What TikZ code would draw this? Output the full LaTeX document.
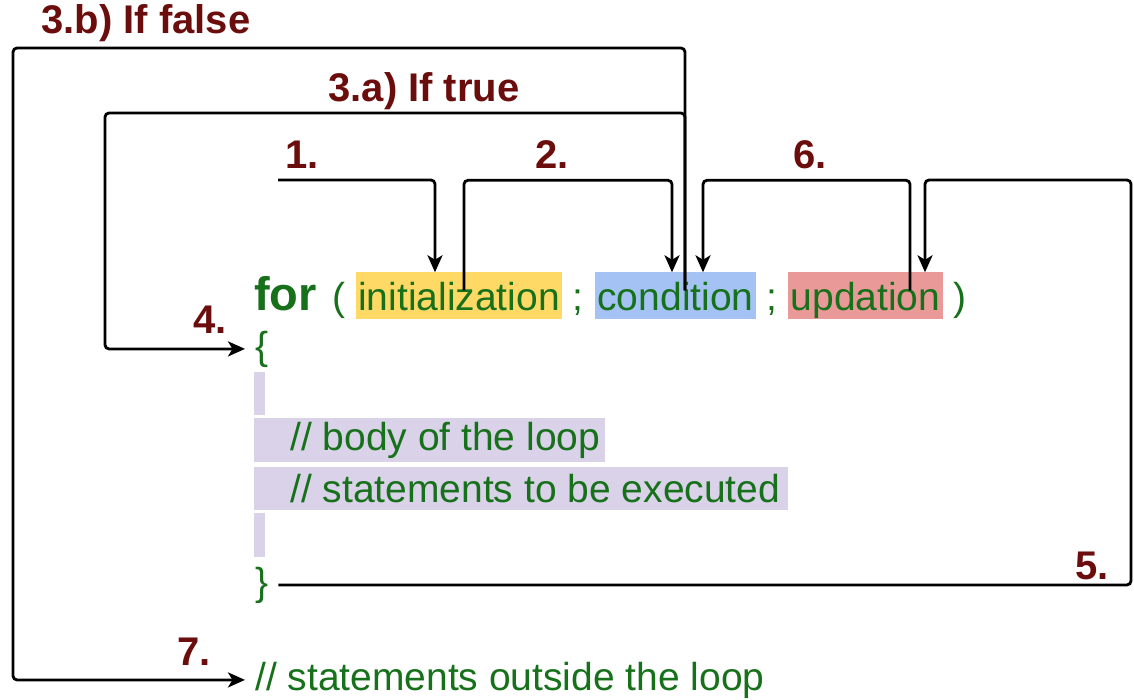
\documentclass[tikz,border=0pt]{standalone}
\usepackage{fontspec}
\setmainfont{Liberation Sans}
\usetikzlibrary{arrows.meta}

\definecolor{codegreen}{HTML}{17701A}
\definecolor{stepred}{HTML}{6B0D0D}
\definecolor{inityellow}{HTML}{FFD966}
\definecolor{condblue}{HTML}{A4C2F4}
\definecolor{updpink}{HTML}{EA9999}
\definecolor{bodylilac}{HTML}{D9D2E9}

\tikzset{
	codetext/.style={font=\fontsize{39}{47}\selectfont, text=codegreen, inner sep=0pt},
	wordbox/.style={codetext, fill=#1, text height=34pt, text depth=5pt,
		inner xsep=2.5pt, inner ysep=3.5pt},
	bodyline/.style={codetext, fill=bodylilac, anchor=north west},
	steplabel/.style={font=\bfseries\fontsize{40}{48}\selectfont, text=stepred, inner sep=0pt},
	flowarrow/.style={line width=2.8pt, rounded corners=4pt,
		-{Stealth[length=17pt, width=15pt, inset=4.5pt]}},
}

\begin{document}
\begin{tikzpicture}[x=1pt, y=-1pt]

	\useasboundingbox (0,0) rectangle (1134,700);

	% the loop header
	\node[codetext, font=\bfseries\fontsize{47}{56}\selectfont, anchor=base west] (for) at (254,310) {for};
	\node[codetext, anchor=base] (lpar) at (339,310) {(};
	\node[wordbox=inityellow, anchor=base] (init) at (459,310) {initialization};
	\node[codetext, anchor=base] (semi1) at (578,310) {;};
	\node[wordbox=condblue, anchor=base] (cond) at (675.5,310) {condition};
	\node[codetext, anchor=base] (semi2) at (772,310) {;};
	\node[wordbox=updpink, anchor=base] (upd) at (865.5,310) {updation};
	\node[codetext, anchor=base] (rpar) at (960,310) {)};

	% the body
	\node[codetext, anchor=base west, inner xsep=10pt] (lbrace) at (245,359) {\{};
	\node[fill=bodylilac, anchor=north west, inner sep=0pt,
		minimum width=11pt, minimum height=43pt] (gap1) at (254,372) {};
	\node[bodyline, minimum height=44pt] (body1) at (254,418)
		{\makebox[351pt][l]{\hspace*{36pt}// body of the loop}};
	\node[bodyline, minimum height=43pt] (body2) at (254,467)
		{\makebox[534pt][l]{\hspace*{36pt}// statements to be executed}};
	\node[fill=bodylilac, anchor=north west, inner sep=0pt,
		minimum width=11pt, minimum height=44pt] (gap2) at (254,513) {};
	\node[codetext, anchor=base west, inner xsep=10pt] (rbrace) at (245,595) {\}};

	\node[codetext, anchor=base west, inner xsep=10pt] (outside) at (245,690)
		{// statements outside the loop};

	% step numbers
	\node[steplabel] (lbl1) at (302,155) {1.};
	\node[steplabel] (lbl2) at (552,155) {2.};
	\node[steplabel] (lbl6) at (810,155) {6.};
	\node[steplabel] (lbl3a) at (424,91) {3.a) If true};
	\node[steplabel] (lbl3b) at (146,23) {3.b) If false};
	\node[steplabel] (lbl4) at (210,320) {4.};
	\node[steplabel] (lbl5) at (1092,566) {5.};
	\node[steplabel] (lbl7) at (194,652) {7.};

	% the flow
	\coordinate (start1) at (278,180);
	\draw[flowarrow] (start1) -| ([xshift=-24pt]init.north);
	\draw[flowarrow] ([xshift=5pt,yshift=-18pt]init.north) -- ++(0,-110)
		-| ([xshift=-3.5pt]cond.north);
	\draw[flowarrow] ([xshift=9.5pt,yshift=-18pt]cond.north) |- (105,113)
		|- (lbrace.west);
	\draw[flowarrow] ([xshift=9.5pt,yshift=-18pt]cond.north) |- (13,48)
		|- (outside.west);
	\draw[flowarrow] (rbrace.east) -| (1131,180) -| ([xshift=59.5pt]upd.north);
	\draw[flowarrow] ([xshift=44.5pt,yshift=-18pt]upd.north) -- ++(0,-110)
		-| ([xshift=27.5pt]cond.north);

\end{tikzpicture}
\end{document}
